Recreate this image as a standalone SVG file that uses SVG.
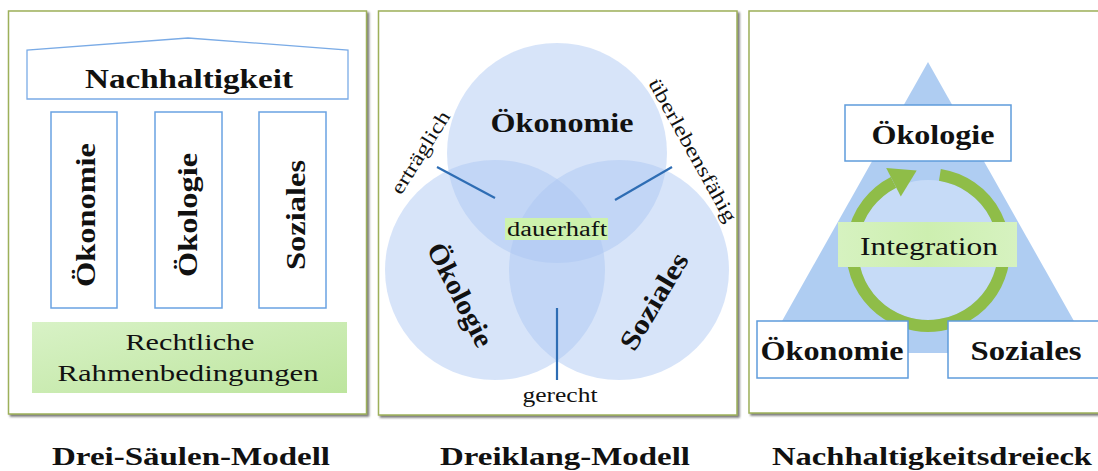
<svg xmlns="http://www.w3.org/2000/svg" width="1098" height="471" viewBox="0 0 1098 471">
<defs>
<style>
.b{font-family:"Liberation Serif","DejaVu Serif",serif;font-weight:bold;fill:#111;text-anchor:middle;lengthAdjust:spacingAndGlyphs}
.r{font-family:"Liberation Serif","DejaVu Serif",serif;fill:#111;text-anchor:middle}
.panel{fill:#fff;stroke:#9db05a;stroke-width:1.5}
.pill{fill:#fff;stroke:#6aa2e2;stroke-width:1.5}
.box{fill:#fff;stroke:#5f9cdb;stroke-width:1.5}
.vc{fill:#a9c6f2;fill-opacity:0.47}
.ln{stroke:#2e6db4;stroke-width:2.2;fill:none}
</style>
<filter id="sh" x="-5%" y="-5%" width="110%" height="110%">
<feDropShadow dx="2" dy="2" stdDeviation="1" flood-color="#555" flood-opacity="0.8"/>
</filter>
<linearGradient id="g1" x1="0" y1="0" x2="1" y2="1">
<stop offset="0" stop-color="#d8f2c6"/>
<stop offset="1" stop-color="#bde59e"/>
</linearGradient>
<linearGradient id="g2" x1="0" y1="0" x2="1" y2="0">
<stop offset="0" stop-color="#d6f2c0"/>
<stop offset="0.5" stop-color="#cdefb0"/>
<stop offset="1" stop-color="#d6f2c0"/>
</linearGradient>
</defs>

<!-- Panel 1: Drei-Säulen-Modell -->
<g id="panel1">
<rect class="panel" x="8.5" y="11" width="358" height="403" filter="url(#sh)"/>
<g id="roof">
<polygon points="27,99 27,50 188,38 348,50 348,99" fill="#fff" stroke="#7aabe6" stroke-width="1.3"/>
<text class="b" x="189" y="88" font-size="27" textLength="208" lengthAdjust="spacingAndGlyphs">Nachhaltigkeit</text>
</g>
<g id="pillar-oekonomie">
<rect class="pill" x="51" y="112" width="66" height="196"/>
<text class="b" transform="translate(95,215) rotate(-90)" font-size="27" textLength="144" lengthAdjust="spacingAndGlyphs">Ökonomie</text>
</g>
<g id="pillar-oekologie">
<rect class="pill" x="155" y="112" width="67" height="196"/>
<text class="b" transform="translate(197,215) rotate(-90)" font-size="27" textLength="124" lengthAdjust="spacingAndGlyphs">Ökologie</text>
</g>
<g id="pillar-soziales">
<rect class="pill" x="259" y="112" width="67" height="196"/>
<text class="b" transform="translate(305,215) rotate(-90)" font-size="27" textLength="110" lengthAdjust="spacingAndGlyphs">Soziales</text>
</g>
<g id="base">
<rect x="32" y="322" width="315" height="71" fill="url(#g1)"/>
<text class="r" x="190" y="350" font-size="24" textLength="129" lengthAdjust="spacingAndGlyphs">Rechtliche</text>
<text class="r" x="188" y="381" font-size="24" textLength="261" lengthAdjust="spacingAndGlyphs">Rahmenbedingungen</text>
</g>
</g>

<!-- Panel 2: Dreiklang-Modell -->
<g id="panel2">
<rect class="panel" x="378.5" y="11" width="358.5" height="404" filter="url(#sh)"/>
<g id="circle-oekonomie">
<circle class="vc" cx="557" cy="153" r="110"/>
<text class="b" x="562" y="132" font-size="28" textLength="143" lengthAdjust="spacingAndGlyphs">Ökonomie</text>
</g>
<g id="circle-oekologie">
<circle class="vc" cx="495" cy="270" r="110"/>
<text class="b" transform="translate(452,299) rotate(63)" font-size="28" textLength="113" lengthAdjust="spacingAndGlyphs">Ökologie</text>
</g>
<g id="circle-soziales">
<circle class="vc" cx="619" cy="270" r="110"/>
<text class="b" transform="translate(662,306) rotate(-59.4)" font-size="28" textLength="108" lengthAdjust="spacingAndGlyphs">Soziales</text>
</g>
<g id="connectors">
<line class="ln" x1="437" y1="167" x2="495" y2="198"/>
<line class="ln" x1="672" y1="167" x2="615" y2="200"/>
<line class="ln" x1="557" y1="308" x2="557" y2="380"/>
</g>
<g id="label-dauerhaft">
<rect x="505" y="218" width="103" height="22" fill="#cdf2ad"/>
<text class="r" x="557" y="236" font-size="20" textLength="100" lengthAdjust="spacingAndGlyphs">dauerhaft</text>
</g>
<text class="r" transform="translate(426,156) rotate(-58)" font-size="20" textLength="94" lengthAdjust="spacingAndGlyphs">erträglich</text>
<text class="r" transform="translate(687,153.5) rotate(61)" font-size="20" textLength="161" lengthAdjust="spacingAndGlyphs">überlebensfähig</text>
<text class="r" x="560" y="402" font-size="20" textLength="75" lengthAdjust="spacingAndGlyphs">gerecht</text>
</g>

<!-- Panel 3: Nachhaltigkeitsdreieck -->
<g id="panel3">
<rect class="panel" x="749" y="11" width="360" height="402" filter="url(#sh)"/>
<polygon points="928,62 764,353 1092,353" fill="#afcdf2"/>
<circle cx="928" cy="250" r="70" fill="#c6dbf7"/>
<g id="cycle">
<path d="M 939.9 174.9 A 76 76 0 1 1 893.5 182.3" fill="none" stroke="#8fbd48" stroke-width="12"/>
<polygon points="886.2,168 900.8,196.6 916.7,170.5" fill="#8fbd48"/>
</g>
<g id="node-oekologie">
<rect class="box" x="845" y="105" width="166" height="56"/>
<text class="b" x="933" y="144" font-size="27" textLength="123" lengthAdjust="spacingAndGlyphs">Ökologie</text>
</g>
<g id="node-integration">
<rect x="838" y="222" width="179" height="45" fill="url(#g2)"/>
<text class="r" x="929" y="255" font-size="25" textLength="138" lengthAdjust="spacingAndGlyphs">Integration</text>
</g>
<g id="node-oekonomie">
<rect class="box" x="757" y="321" width="151" height="57"/>
<text class="b" x="832" y="360" font-size="27" textLength="143" lengthAdjust="spacingAndGlyphs">Ökonomie</text>
</g>
<g id="node-soziales">
<rect class="box" x="948" y="321" width="155" height="57"/>
<text class="b" x="1026" y="360" font-size="27" textLength="111" lengthAdjust="spacingAndGlyphs">Soziales</text>
</g>
</g>

<!-- Captions -->
<g id="captions">
<text class="b" x="191" y="465" font-size="26" textLength="278" lengthAdjust="spacingAndGlyphs">Drei-Säulen-Modell</text>
<text class="b" x="565" y="465" font-size="26" textLength="250" lengthAdjust="spacingAndGlyphs">Dreiklang-Modell</text>
<text class="b" x="932" y="465" font-size="26" textLength="320" lengthAdjust="spacingAndGlyphs">Nachhaltigkeitsdreieck</text>
</g>
</svg>
